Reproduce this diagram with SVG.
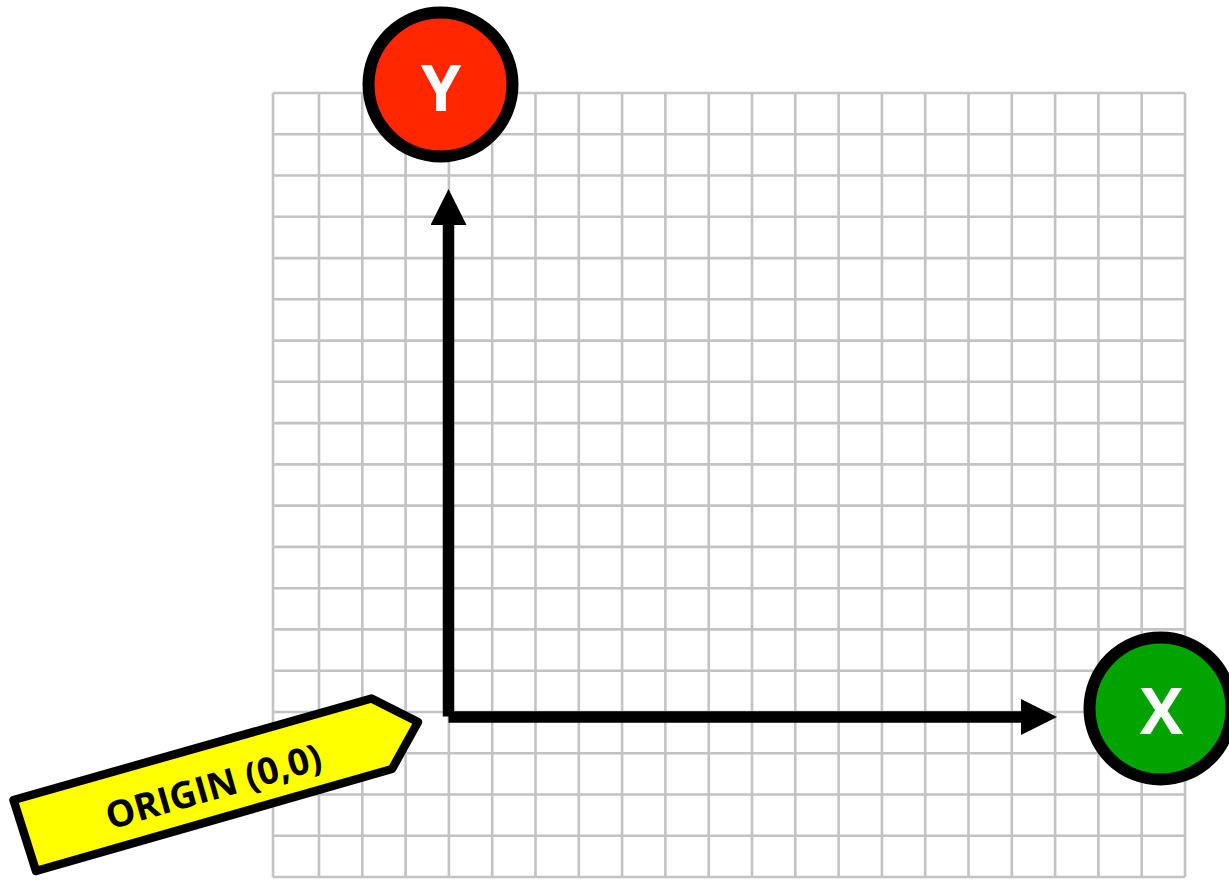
<svg xmlns="http://www.w3.org/2000/svg" width="1229" height="881" viewBox="0 0 1229 881">
<style>
.grid{fill:none;stroke:#c3c3c3;stroke-width:2.6}
.axis{fill:none;stroke:#000;stroke-width:11.5;stroke-linecap:butt}
.node{stroke:#000;stroke-width:12}
.lbl{font-family:"Open Sans","Liberation Sans",sans-serif;font-weight:bold;fill:#fff;text-anchor:middle}
.tag{fill:#ffff00;stroke:#000;stroke-width:8.5;stroke-linejoin:round}
.tagtxt{font-family:"Open Sans","Liberation Sans",sans-serif;font-weight:bold;fill:#000;text-anchor:middle;font-size:37px}
</style>
<defs>
<marker id="head" markerUnits="userSpaceOnUse" viewBox="0 0 36 36" markerWidth="36" markerHeight="36" refX="0" refY="18" orient="auto">
<path d="M0,0 L36,18 L0,36 Z" fill="#000"/>
</marker>
</defs>
<rect width="1229" height="881" fill="#fff"/>
<g id="grid">
<path class="grid" d="M273,93V877M319,93V877M362.3,93V877M405.6,93V877M448.9,93V877M492.2,93V877M535.5,93V877M578.8,93V877M622.1,93V877M665.4,93V877M708.7,93V877M752,93V877M795.3,93V877M838.6,93V877M881.9,93V877M925.2,93V877M968.5,93V877M1011.8,93V877M1055.1,93V877M1098.4,93V877M1141.7,93V877M1185,93V877
M273,93H1185M273,134.3H1185M273,175.5H1185M273,216.8H1185M273,258.1H1185M273,299.3H1185M273,340.6H1185M273,381.8H1185M273,423.1H1185M273,464.4H1185M273,505.6H1185M273,546.9H1185M273,588.2H1185M273,629.4H1185M273,670.7H1185M273,712H1185M273,753.2H1185M273,794.5H1185M273,835.7H1185M273,877H1185"/>
</g>
<g id="connectors">
<line class="axis" x1="448.5" y1="716.5" x2="448.5" y2="225" marker-end="url(#head)"/>
<line class="axis" x1="448.5" y1="717" x2="1021" y2="717" marker-end="url(#head)"/>
</g>
<g id="node-y">
<circle class="node" cx="440.5" cy="84.5" r="72" fill="#ff2600"/>
<text class="lbl" x="441" y="111" font-size="65">Y</text>
</g>
<g id="node-x">
<circle class="node" cx="1160.5" cy="708.5" r="71" fill="#00a300"/>
<text class="lbl" x="1161.5" y="734" font-size="65">X</text>
</g>
<g id="origin-label">
<polygon class="tag" points="13.5,800 371.5,698.5 418,722 392,769 36,871"/>
<text class="tagtxt" transform="translate(217,799) rotate(-16)" x="0" y="0">ORIGIN (0,0)</text>
</g>
</svg>
